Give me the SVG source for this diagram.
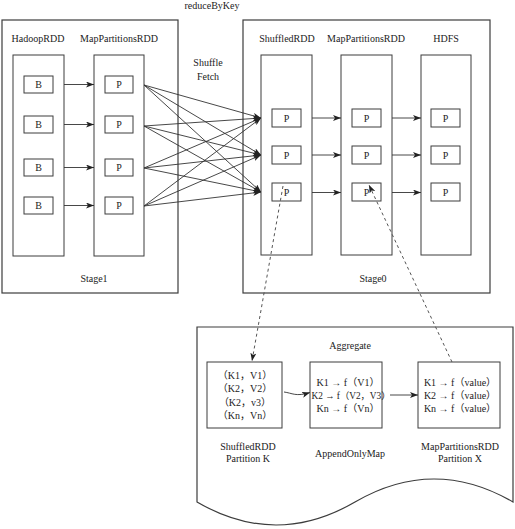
<svg xmlns="http://www.w3.org/2000/svg" width="515" height="529" viewBox="0 0 515 529">
<defs>
<style>
.box{fill:#fff;stroke:#3c3c3c;stroke-width:1}
.stage{fill:none;stroke:#3c3c3c;stroke-width:1.2}
.t{font-family:"Liberation Serif","Noto Sans CJK SC",serif;font-size:10px;fill:#222;text-anchor:middle}
.ln{fill:none;stroke:#333;stroke-width:0.9}
.dash{fill:none;stroke:#555;stroke-width:1;stroke-dasharray:3,3}
</style>
<marker id="arr" markerWidth="8" markerHeight="6" refX="8" refY="3" orient="auto" markerUnits="userSpaceOnUse">
<path d="M0,0 L8,3 L0,6 L2,3 Z" fill="#222"/>
</marker>
</defs>
<rect width="515" height="529" fill="#fff"/>

<text class="t" x="212" y="9">reduceByKey</text>

<g id="stage1">
<rect class="stage" x="2" y="20" width="176" height="273"/>
<text class="t" x="94" y="281.5">Stage1</text>
</g>
<g id="stage0">
<rect class="stage" x="243" y="20" width="247" height="273"/>
<text class="t" x="373" y="281.5">Stage0</text>
</g>

<g id="hadoopRDD">
<text class="t" x="38" y="41.5">HadoopRDD</text>
<rect class="box" x="13" y="55" width="51" height="201"/>
<g id="b1"><rect class="box" x="24" y="76" width="29" height="17"/><text class="t" x="38.5" y="88">B</text></g>
<g id="b2"><rect class="box" x="24" y="116" width="29" height="17"/><text class="t" x="38.5" y="128">B</text></g>
<g id="b3"><rect class="box" x="24" y="159" width="29" height="17"/><text class="t" x="38.5" y="171">B</text></g>
<g id="b4"><rect class="box" x="24" y="197" width="29" height="17"/><text class="t" x="38.5" y="209">B</text></g>
</g>

<g id="mapPartitionsRDD1">
<text class="t" x="119" y="41.5">MapPartitionsRDD</text>
<rect class="box" x="94" y="55" width="50" height="201"/>
<g id="p1"><rect class="box" x="105" y="76" width="28" height="17"/><text class="t" x="119" y="88">P</text></g>
<g id="p2"><rect class="box" x="105" y="116" width="28" height="17"/><text class="t" x="119" y="128">P</text></g>
<g id="p3"><rect class="box" x="105" y="159" width="28" height="17"/><text class="t" x="119" y="171">P</text></g>
<g id="p4"><rect class="box" x="105" y="197" width="28" height="17"/><text class="t" x="119" y="209">P</text></g>
</g>

<g id="shuffleFetch">
<text class="t" x="208" y="65.5">Shuffle</text>
<text class="t" x="208" y="79.5">Fetch</text>
</g>

<g id="shuffledRDD">
<text class="t" x="287" y="41.5">ShuffledRDD</text>
<rect class="box" x="261" y="55" width="51" height="200"/>
<g id="s1"><rect class="box" x="272" y="109" width="29" height="18"/><text class="t" x="286.5" y="121.5">P</text></g>
<g id="s2"><rect class="box" x="272" y="146" width="29" height="18"/><text class="t" x="286.5" y="158.5">P</text></g>
<g id="s3"><rect class="box" x="272" y="183" width="29" height="18"/><text class="t" x="286.5" y="195.5">P</text></g>
</g>

<g id="mapPartitionsRDD2">
<text class="t" x="366" y="41.5">MapPartitionsRDD</text>
<rect class="box" x="341" y="55" width="51" height="200"/>
<g id="m1"><rect class="box" x="352" y="109" width="29" height="18"/><text class="t" x="366.5" y="121.5">P</text></g>
<g id="m2"><rect class="box" x="352" y="146" width="29" height="18"/><text class="t" x="366.5" y="158.5">P</text></g>
<g id="m3"><rect class="box" x="352" y="183" width="29" height="18"/><text class="t" x="366.5" y="195.5">P</text></g>
</g>

<g id="hdfs">
<text class="t" x="446" y="41.5">HDFS</text>
<rect class="box" x="421" y="55" width="50" height="200"/>
<g id="h1"><rect class="box" x="431" y="109" width="29" height="18"/><text class="t" x="445.5" y="121.5">P</text></g>
<g id="h2"><rect class="box" x="431" y="146" width="29" height="18"/><text class="t" x="445.5" y="158.5">P</text></g>
<g id="h3"><rect class="box" x="431" y="183" width="29" height="18"/><text class="t" x="445.5" y="195.5">P</text></g>
</g>

<g id="aggregate">
<path class="stage" d="M197,327 H513 V502 Q434,456 355,502 Q276,548 197,502 Z" fill="#fff"/>
<text class="t" x="350" y="348.5">Aggregate</text>
</g>

<g id="partitionK">
<rect class="box" x="207" y="362" width="75" height="66"/>
<text class="t" x="245" y="378.5">（K1，V1）</text>
<text class="t" x="245" y="392">（K2，V2）</text>
<text class="t" x="245" y="405.5">（K2，v3）</text>
<text class="t" x="245" y="419">（Kn，Vn）</text>
<text class="t" x="248" y="449.5">ShuffledRDD</text>
<text class="t" x="248" y="461.5">Partition K</text>
</g>

<g id="appendOnlyMap">
<rect class="box" x="310" y="362" width="72" height="66"/>
<text class="t" x="348" y="385.5">K1 → f（V1）</text>
<text class="t" x="351" y="398.5" style="font-size:9.3px">K2 → f（V2，V3）</text>
<text class="t" x="348" y="411.5">Kn → f（Vn）</text>
<text class="t" x="350" y="456.5">AppendOnlyMap</text>
</g>

<g id="partitionX">
<rect class="box" x="418" y="362" width="82" height="66"/>
<text class="t" x="460" y="385.5">K1 → f（value）</text>
<text class="t" x="460" y="398.5">K2 → f（value）</text>
<text class="t" x="460" y="411.5">Kn → f（value）</text>
<text class="t" x="460" y="449.5">MapPartitionsRDD</text>
<text class="t" x="460" y="461.5">Partition X</text>
</g>

<g id="connectors">
<line class="ln" x1="64" y1="84.5" x2="94" y2="84.5" marker-end="url(#arr)"/>
<line class="ln" x1="64" y1="124.5" x2="94" y2="124.5" marker-end="url(#arr)"/>
<line class="ln" x1="64" y1="167.5" x2="94" y2="167.5" marker-end="url(#arr)"/>
<line class="ln" x1="64" y1="205.5" x2="94" y2="205.5" marker-end="url(#arr)"/>

<line class="ln" x1="144" y1="85" x2="261" y2="118" marker-end="url(#arr)"/>
<line class="ln" x1="144" y1="85" x2="261" y2="155" marker-end="url(#arr)"/>
<line class="ln" x1="144" y1="85" x2="261" y2="192" marker-end="url(#arr)"/>
<line class="ln" x1="144" y1="126" x2="261" y2="118" marker-end="url(#arr)"/>
<line class="ln" x1="144" y1="126" x2="261" y2="155" marker-end="url(#arr)"/>
<line class="ln" x1="144" y1="126" x2="261" y2="192" marker-end="url(#arr)"/>
<line class="ln" x1="144" y1="168" x2="261" y2="118" marker-end="url(#arr)"/>
<line class="ln" x1="144" y1="168" x2="261" y2="155" marker-end="url(#arr)"/>
<line class="ln" x1="144" y1="168" x2="261" y2="192" marker-end="url(#arr)"/>
<line class="ln" x1="144" y1="206" x2="261" y2="118" marker-end="url(#arr)"/>
<line class="ln" x1="144" y1="206" x2="261" y2="155" marker-end="url(#arr)"/>
<line class="ln" x1="144" y1="206" x2="261" y2="192" marker-end="url(#arr)"/>

<line class="ln" x1="312" y1="118" x2="341" y2="118" marker-end="url(#arr)"/>
<line class="ln" x1="312" y1="155" x2="341" y2="155" marker-end="url(#arr)"/>
<line class="ln" x1="312" y1="192.5" x2="341" y2="192.5" marker-end="url(#arr)"/>
<line class="ln" x1="392" y1="118" x2="421" y2="118" marker-end="url(#arr)"/>
<line class="ln" x1="392" y1="155" x2="421" y2="155" marker-end="url(#arr)"/>
<line class="ln" x1="392" y1="192.5" x2="421" y2="192.5" marker-end="url(#arr)"/>

<line class="dash" x1="283" y1="186" x2="252" y2="361" marker-end="url(#arr)"/>
<line class="dash" x1="452" y1="362" x2="369" y2="185" marker-end="url(#arr)"/>

<path class="ln" d="M284,392 C292,393 296,397 310,392.5" marker-end="url(#arr)"/>
<line class="ln" x1="390" y1="395" x2="418" y2="395" marker-end="url(#arr)"/>
</g>
</svg>
